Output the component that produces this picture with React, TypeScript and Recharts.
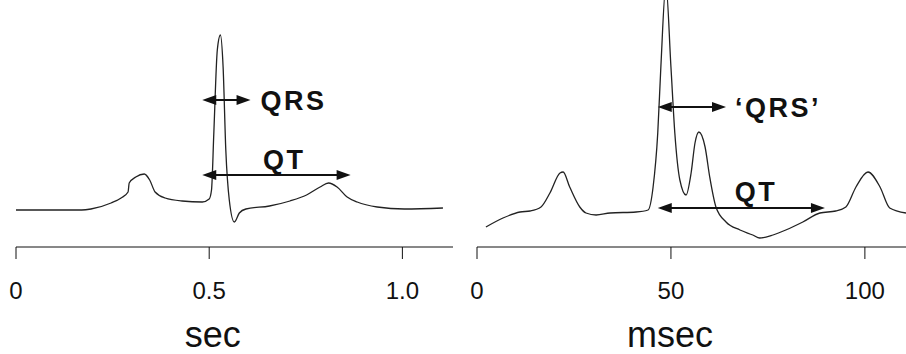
import React from "react";
import {
  Label,
  Line,
  LineChart,
  ReferenceDot,
  ReferenceLine,
  XAxis,
  YAxis,
} from "recharts";

// left trace (sec)
const secTime = [
  0, 0.1, 0.17, 0.194, 0.246, 0.272, 0.29, 0.293, 0.31, 0.332, 0.346, 0.36, 0.386,
  0.43, 0.482, 0.5, 0.506, 0.512, 0.521, 0.529, 0.536, 0.543, 0.552, 0.565, 0.578,
  0.595, 0.656, 0.709, 0.752, 0.787, 0.809, 0.831, 0.857, 0.883, 0.935, 1.005, 1.105,
];
const secVolt = [
  0, 0, 0, 1, 7, 12, 18, 27, 33, 36, 30, 18, 12,
  9, 8, 11, 20, 77, 160, 175, 143, 60, 10, -12, -3,
  1, 4, 9, 15, 23, 27, 23, 13, 8, 3, 1, 2,
];
const secTicks = [0, 0.5, 1.0];
const secTickLabels = ["0", "0.5", "1.0"];

// right trace (msec)
const msecTime = [
  2.3, 6.7, 11.1, 13.7, 16.5, 18.8, 21.4, 22.2, 23.9, 26.5, 28.1, 30.7, 34.3, 41.0,
  44.1, 45.4, 46.6, 47.4, 48.7, 50.0, 51.0, 52.3, 53.9, 55.2, 56.2, 57.2, 58.8, 60.0,
  61.6, 64.2, 67.8, 71.1, 72.9, 76.3, 79.6, 84.0, 88.4, 92.5, 95.1, 97.7, 100.8, 103.9,
  106.4, 110.6,
];
const msecVolt = [
  -17, -8, -2, -1, 3, 17, 37, 38, 23, 3, -3, -5, -3, -2,
  0, 23, 77, 143, 225, 143, 77, 30, 15, 37, 67, 78, 63, 33,
  3, -12, -20, -25, -28, -25, -20, -12, -3, -1, 3, 23, 38, 23,
  2, -3,
];
const msecTicks = [0, 50, 100];
const msecTickLabels = ["0", "50", "100"];

const secData = secTime.map((t, i) => ({ t, v: secVolt[i] }));
const msecData = msecTime.map((t, i) => ({ t, v: msecVolt[i] }));

const ink = "#111";
const font = "'Liberation Sans', Arial, Helvetica, sans-serif";

function DoubleArrow(props: any) {
  const { x1, y1, x2, y2 } = props;
  const h = 14;
  const w = 5;
  return (
    <g>
      <line x1={x1 + h - 3} y1={y1} x2={x2 - h + 3} y2={y2} stroke={ink} strokeWidth={2} />
      <polygon points={`${x1},${y1} ${x1 + h},${y1 - w} ${x1 + h},${y1 + w}`} fill={ink} />
      <polygon points={`${x2},${y2} ${x2 - h},${y2 - w} ${x2 - h},${y2 + w}`} fill={ink} />
    </g>
  );
}

const annoText = (value: string) => (p: any) => (
  <text
    x={p.cx}
    y={p.cy}
    textAnchor="middle"
    dominantBaseline="central"
    fontFamily={font}
    fontWeight="bold"
    fontSize={27}
    letterSpacing={2.5}
    fill={ink}
  >
    {value}
  </text>
);

const unitLabel = (value: string) => (p: any) => {
  const vb = p.viewBox;
  return (
    <text
      x={vb.x + vb.width * 0.45}
      y={347}
      textAnchor="middle"
      fontFamily={font}
      fontSize={36}
      fill={ink}
    >
      {value}
    </text>
  );
};

type PanelProps = {
  data: { t: number; v: number }[];
  domain: [number, number];
  ticks: number[];
  tickLabels: string[];
  unit: string;
  left: number;
  marginLeft: number;
  children?: React.ReactNode;
};

function Panel({ data, domain, ticks, tickLabels, unit, left, marginLeft, children }: PanelProps) {
  return (
    <div style={{ position: "absolute", left, top: 0 }}>
      <LineChart
        width={453}
        height={354}
        data={data}
        margin={{ top: 0, right: 0, left: marginLeft, bottom: 0 }}
      >
        <XAxis
          type="number"
          dataKey="t"
          domain={domain}
          ticks={ticks}
          allowDataOverflow
          tickFormatter={(v: number) => tickLabels[ticks.indexOf(v)] ?? String(v)}
          height={107}
          tickSize={12}
          tickMargin={23}
          stroke={ink}
          tick={{ fill: ink, fontSize: 24, fontFamily: font }}
        >
          <Label content={unitLabel(unit)} />
        </XAxis>
        <YAxis hide domain={[-37, 210]} allowDataOverflow />
        <Line
          type="monotone"
          dataKey="v"
          stroke="#222"
          strokeWidth={1.3}
          dot={false}
          isAnimationActive={false}
        />
        {children}
      </LineChart>
    </div>
  );
}

export default function App() {
  return (
    <div
      style={{
        position: "absolute",
        left: 0,
        top: 0,
        width: 906,
        height: 354,
        background: "#fff",
        overflow: "hidden",
      }}
    >
      <Panel
        data={secData}
        domain={[0, 1.131]}
        ticks={secTicks}
        tickLabels={secTickLabels}
        unit="sec"
        left={0}
        marginLeft={16}
      >
        <ReferenceLine
          segment={[{ x: 0.482, y: 110 }, { x: 0.607, y: 110 }]}
          shape={DoubleArrow}
          label={{ value: "QRS", position: "right", offset: 10, fill: ink, fontSize: 27, fontWeight: "bold", fontFamily: font, letterSpacing: 2.5 }}
        />
        <ReferenceLine segment={[{ x: 0.482, y: 35 }, { x: 0.866, y: 35 }]} shape={DoubleArrow} />
        <ReferenceDot x={0.694} y={50} r={0} shape={annoText("QT")} />
      </Panel>
      <Panel
        data={msecData}
        domain={[0, 110.6]}
        ticks={msecTicks}
        tickLabels={msecTickLabels}
        unit="msec"
        left={453}
        marginLeft={24}
      >
        <ReferenceLine
          segment={[{ x: 46.6, y: 103 }, { x: 64.2, y: 103 }]}
          shape={DoubleArrow}
          label={{ value: "\u2018QRS\u2019", position: "right", offset: 9, fill: ink, fontSize: 27, fontWeight: "bold", fontFamily: font, letterSpacing: 2.5 }}
        />
        <ReferenceLine segment={[{ x: 46.6, y: 2 }, { x: 89.7, y: 2 }]} shape={DoubleArrow} />
        <ReferenceDot x={71.9} y={18} r={0} shape={annoText("QT")} />
      </Panel>
    </div>
  );
}
